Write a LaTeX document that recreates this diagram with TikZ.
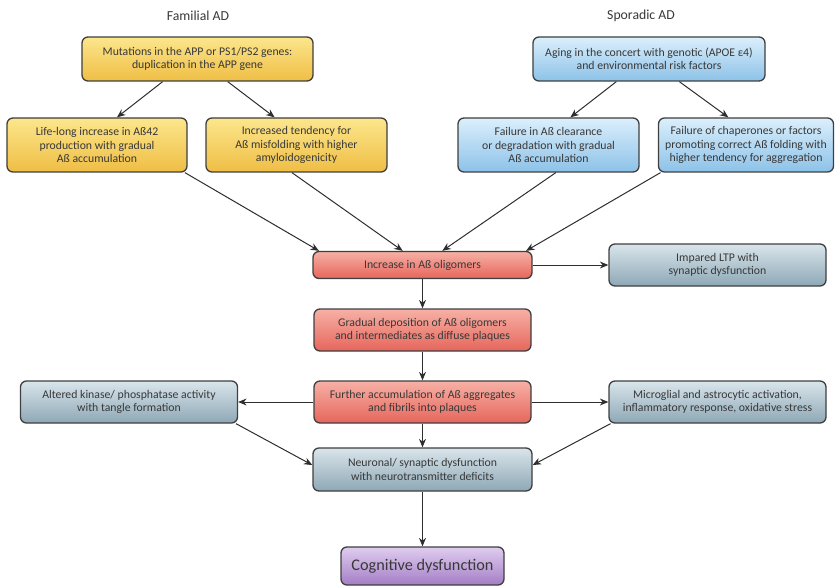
\documentclass[tikz,border=0pt]{standalone}
\usepackage{fontspec}
\setmainfont{Carlito}
\usetikzlibrary{arrows.meta,calc}
\definecolor{bordc}{HTML}{3F3F3F}
\definecolor{txtc}{HTML}{383838}
\definecolor{lnc}{HTML}{2E2E2E}
\definecolor{yT}{HTML}{FCE68C}\definecolor{yM}{HTML}{FDE28A}\definecolor{yB}{HTML}{EFBE45}
\definecolor{bT}{HTML}{DCEFFC}\definecolor{bM}{HTML}{C2E1F6}\definecolor{bB}{HTML}{8CC2E8}
\definecolor{rT}{HTML}{F7B0A6}\definecolor{rM}{HTML}{F39A8F}\definecolor{rB}{HTML}{E6665B}
\definecolor{gT}{HTML}{D9E5EB}\definecolor{gM}{HTML}{C2D3DC}\definecolor{gB}{HTML}{8EA8B6}
\definecolor{pT}{HTML}{DFCCEE}\definecolor{pM}{HTML}{CDB2E4}\definecolor{pB}{HTML}{A47EC6}
\tikzset{
  box/.style={draw=bordc, line width=1.3bp, rounded corners=6bp, align=center,
    text=txtc, inner sep=0pt, font=\fontsize{11.8}{13.3}\selectfont},
  ybox/.style={box, top color=yT, middle color=yM, bottom color=yB},
  bbox/.style={box, top color=bT, middle color=bM, bottom color=bB},
  rbox/.style={box, top color=rT, middle color=rM, bottom color=rB},
  gbox/.style={box, top color=gT, middle color=gM, bottom color=gB},
  pbox/.style={box, top color=pT, middle color=pM, bottom color=pB},
  ttl/.style={text=txtc, font=\fontsize{13.8}{16}\selectfont},
  arr/.style={draw=lnc, line width=1bp, -{Stealth[length=8.5bp,width=7bp]}}
}
\begin{document}
\begin{tikzpicture}[x=1bp,y=-1bp]
\useasboundingbox (0,0) rectangle (835,587);
\node[ttl] (tF) at (198,16) {Familial AD};
\node[ttl] (tS) at (641,16) {Sporadic AD};
\node[ybox, minimum width=231bp, minimum height=44bp] (F1) at (197.5,59)
  {Mutations in the APP or PS1/PS2 genes:\\duplication in the APP gene};
\node[ybox, minimum width=180bp, minimum height=54bp] (F2) at (97,145)
  {Life-long increase in Aß42\\production with gradual\\Aß accumulation};
\node[ybox, minimum width=181bp, minimum height=54bp] (F3) at (296.5,145)
  {Increased tendency for\\Aß misfolding with higher\\amyloidogenicity};
\node[bbox, minimum width=232bp, minimum height=44bp] (S1) at (649,59)
  {Aging in the concert with genotic (APOE ε4)\\and environmental risk factors};
\node[bbox, minimum width=181bp, minimum height=54bp] (S2) at (548.5,145)
  {Failure in Aß clearance\\or degradation with gradual\\Aß accumulation};
\node[bbox, minimum width=175bp, minimum height=54bp] (S3) at (746,145)
  {Failure of chaperones or factors\\promoting correct Aß folding with\\higher tendency for aggregation};
\node[rbox, minimum width=219bp, minimum height=27bp] (O) at (422.5,265)
  {Increase in Aß oligomers};
\node[gbox, minimum width=217bp, minimum height=42bp] (L) at (717.5,265)
  {Impared LTP with\\synaptic dysfunction};
\node[rbox, minimum width=217bp, minimum height=42bp] (G) at (422.5,330)
  {Gradual deposition of Aß oligomers\\and intermediates as diffuse plaques};
\node[rbox, minimum width=217bp, minimum height=42bp] (FA) at (422.5,402)
  {Further accumulation of Aß aggregates\\and fibrils into plaques};
\node[gbox, minimum width=217bp, minimum height=42bp] (A) at (129,402)
  {Altered kinase/ phosphatase activity\\with tangle formation};
\node[gbox, minimum width=217bp, minimum height=42bp] (M) at (717.5,402)
  {Microglial and astrocytic activation,\\inflammatory response, oxidative stress};
\node[gbox, minimum width=219bp, minimum height=43bp] (N) at (422.5,469.5)
  {Neuronal/ synaptic dysfunction\\with neurotransmitter deficits};
\node[pbox, minimum width=163bp, minimum height=38bp, font=\fontsize{16.3}{18}\selectfont] (C) at (422.5,566)
  {Cognitive dysfunction};
% arrows
\draw[arr] ($(F1.south west)!0.35!(F1.south east)$) -- ($(F2.north west)!0.61!(F2.north east)$);
\draw[arr] ($(F1.south west)!0.63!(F1.south east)$) -- ($(F3.north west)!0.38!(F3.north east)$);
\draw[arr] ($(S1.south west)!0.36!(S1.south east)$) -- ($(S2.north west)!0.62!(S2.north east)$);
\draw[arr] ($(S1.south west)!0.63!(S1.south east)$) -- ($(S3.north west)!0.40!(S3.north east)$);
\draw[arr] ($(F2.south west)!0.985!(F2.south east)$) -- ($(O.north west)!0.03!(O.north east)$);
\draw[arr] ($(F3.south west)!0.475!(F3.south east)$) -- ($(O.north west)!0.41!(O.north east)$);
\draw[arr] ($(S2.south west)!0.54!(S2.south east)$) -- ($(O.north west)!0.59!(O.north east)$);
\draw[arr] ($(S3.south west)!0.015!(S3.south east)$) -- ($(O.north west)!0.97!(O.north east)$);
\draw[arr] (O.east) -- (L.west);
\draw[arr] (O.south) -- (G.north);
\draw[arr] (G.south) -- (FA.north);
\draw[arr] (FA.west) -- (A.east);
\draw[arr] (FA.east) -- (M.west);
\draw[arr] (FA.south) -- (N.north);
\draw[arr] ($(A.south west)!0.99!(A.south east)$) -- ($(N.north west)!0.4!(N.south west)$);
\draw[arr] ($(M.south west)!0.01!(M.south east)$) -- ($(N.north east)!0.4!(N.south east)$);
\draw[arr] (N.south) -- (C.north);
\end{tikzpicture}
\end{document}
